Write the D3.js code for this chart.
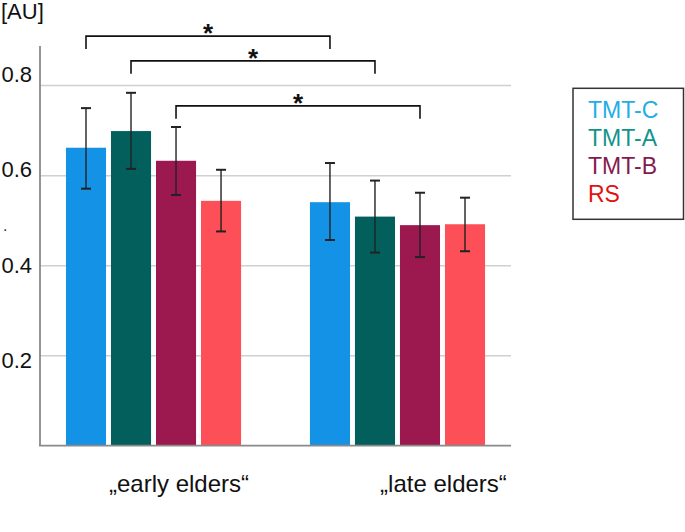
<!DOCTYPE html>
<html><head><meta charset="utf-8">
<script src="https://cdn.jsdelivr.net/npm/d3@7"></script>
<style>
body{margin:0;background:#fff}
svg{display:block;font-family:"Liberation Sans",Arial,Helvetica,sans-serif}
</style>
</head><body>
<svg id="chart" width="685" height="532"></svg>
<script>
// ---- data ----
const groups = ["„early elders“", "„late elders“"];
const series = ["TMT-C", "TMT-A", "TMT-B", "RS"];
const earlyMeans = [0.662, 0.699, 0.633, 0.544];
const lateMeans  = [0.541, 0.509, 0.490, 0.492];
const earlyLow   = [0.571, 0.615, 0.557, 0.476];
const earlyHigh  = [0.750, 0.784, 0.708, 0.613];
const lateLow    = [0.457, 0.429, 0.419, 0.432];
const lateHigh   = [0.628, 0.589, 0.562, 0.551];
const yTicks = [0.2, 0.4, 0.6, 0.8];
const yTickLabels = ["0.2", "0.4", "0.6", "0.8"];
const yAxisTitle = "[AU]";
const compSeries = ["TMT-C", "TMT-A", "TMT-B"];   // early vs late comparisons
const compLevels = [0.910, 0.855, 0.755];         // bracket heights (data units)
const compMarks = ["*", "*", "*"];

// ---- styles ----
const barColors = ["#1492e6", "#035f5b", "#9c1950", "#fc4f57"];
const legendColors = ["#22aee6", "#12948b", "#841a4f", "#e41111"];

(function () {
const svg = d3.select("#chart");
const pLeft = 40, pRight = 511, pBottom = 445.7, pTop = 46;

const rows = groups.map((g, gi) => series.map((s, si) => ({
  group: g, series: s, si,
  mean: gi === 0 ? earlyMeans[si] : lateMeans[si],
  low: gi === 0 ? earlyLow[si] : lateLow[si],
  high: gi === 0 ? earlyHigh[si] : lateHigh[si]
}))).flat();

const x0 = d3.scaleBand().domain(groups).range([pLeft, pRight])
  .paddingInner(0.262).paddingOuter(0.0963);
const x1 = d3.scaleBand().domain(series).range([0, x0.bandwidth()])
  .paddingInner(0.11).paddingOuter(0.055);
const y = d3.scaleLinear().domain([0, 0.888]).range([pBottom, pTop]);
// tick labels in the reference sit on a slightly wider spacing than the grid
const yLab = d3.scaleLinear().domain([0.2, 0.8]).range([359.7, 74.5]);
const color = d3.scaleOrdinal().domain(series).range(barColors);
const cx = d => x0(d.group) + x1(d.series) + x1.bandwidth() / 2;

// grid
svg.append("g").selectAll("line").data(yTicks).join("line")
  .attr("x1", pLeft).attr("x2", pRight)
  .attr("y1", d => y(d)).attr("y2", d => y(d))
  .attr("stroke", "#d0d0d0").attr("stroke-width", 1.5);

// tick labels
svg.append("g").selectAll("text").data(yTicks).join("text")
  .attr("x", 32).attr("y", d => yLab(d)).attr("dy", "0.36em")
  .attr("text-anchor", "end").attr("font-size", 22).attr("fill", "#111")
  .text((d, i) => yTickLabels[i]);

svg.append("text").attr("x", 1).attr("y", 19).attr("font-size", 22)
  .attr("fill", "#111").text(yAxisTitle);
svg.append("text").attr("x", 3).attr("y", 231).attr("font-size", 16)
  .attr("fill", "#333").text(".");

// bars
svg.append("g").selectAll("rect").data(rows).join("rect")
  .attr("x", d => x0(d.group) + x1(d.series))
  .attr("width", x1.bandwidth())
  .attr("y", d => y(d.mean))
  .attr("height", d => y(0) - y(d.mean))
  .attr("fill", d => color(d.series));

// axes lines
svg.append("line").attr("x1", pLeft).attr("x2", pLeft).attr("y1", pTop).attr("y2", pBottom)
  .attr("stroke", "#8a8a8a").attr("stroke-width", 1.8);
svg.append("line").attr("x1", pLeft - 1).attr("x2", pRight).attr("y1", pBottom).attr("y2", pBottom)
  .attr("stroke", "#8a8a8a").attr("stroke-width", 1.8);

// error bars
const eb = svg.append("g").attr("stroke", "#222");
eb.selectAll("line.v").data(rows).join("line").attr("class", "v")
  .attr("x1", cx).attr("x2", cx)
  .attr("y1", d => y(d.low)).attr("y2", d => y(d.high))
  .attr("stroke-width", 1.4);
eb.selectAll("line.t").data(rows).join("line").attr("class", "t")
  .attr("x1", d => cx(d) - 5).attr("x2", d => cx(d) + 5)
  .attr("y1", d => y(d.high)).attr("y2", d => y(d.high))
  .attr("stroke-width", 2);
eb.selectAll("line.b").data(rows).join("line").attr("class", "b")
  .attr("x1", d => cx(d) - 5).attr("x2", d => cx(d) + 5)
  .attr("y1", d => y(d.low)).attr("y2", d => y(d.low))
  .attr("stroke-width", 2);

// significance brackets
const comps = compSeries.map((s, i) => ({
  xa: x0(groups[0]) + x1(s) + x1.bandwidth() / 2,
  xb: x0(groups[1]) + x1(s) + x1.bandwidth() / 2,
  lvl: compLevels[i], mark: compMarks[i]
}));
svg.append("g").selectAll("path").data(comps).join("path")
  .attr("d", d => `M${d.xa},${y(d.lvl) + 13}V${y(d.lvl)}H${d.xb}V${y(d.lvl) + 13}`)
  .attr("fill", "none").attr("stroke", "#111").attr("stroke-width", 1.6);
svg.append("g").selectAll("text").data(comps).join("text")
  .attr("x", d => (d.xa + d.xb) / 2).attr("y", d => y(d.lvl) + 6)
  .attr("text-anchor", "middle").attr("font-size", 26).attr("font-weight", "bold")
  .attr("fill", "#111").text(d => d.mark);

// group labels
const labelShift = [25.5, 46];
svg.append("g").selectAll("text").data(groups).join("text")
  .attr("x", (d, i) => x0(d) + x0.bandwidth() / 2 + labelShift[i])
  .attr("y", 491.5).attr("text-anchor", "middle").attr("font-size", 24)
  .attr("fill", "#111").text(d => d);

// legend
const lg = svg.append("g");
lg.append("rect").attr("x", 573).attr("y", 88.3).attr("width", 110.5).attr("height", 131)
  .attr("fill", "none").attr("stroke", "#333").attr("stroke-width", 1.5);
lg.selectAll("text").data(series).join("text")
  .attr("x", 588).attr("y", (d, i) => 117.8 + i * 28.1)
  .attr("font-size", 23).attr("fill", (d, i) => legendColors[i]).text(d => d);
})();
</script>
</body></html>
